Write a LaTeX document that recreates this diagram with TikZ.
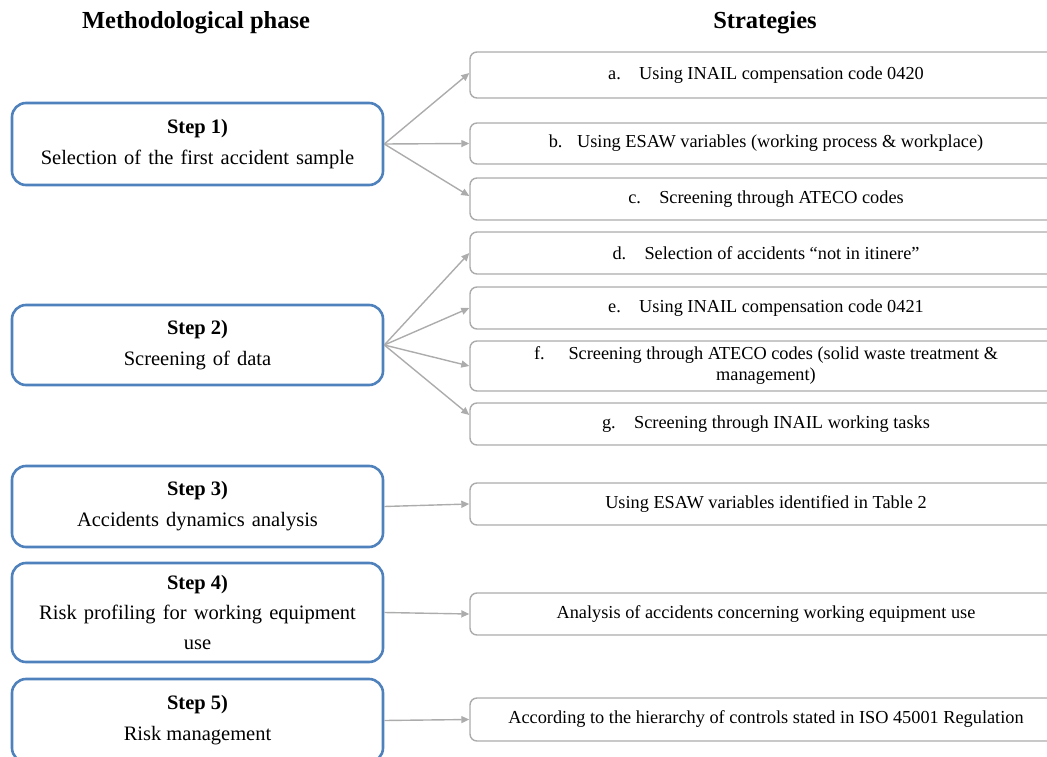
\documentclass[tikz,border=0pt]{standalone}
\usepackage{fontspec}
\setmainfont{Liberation Serif}
\usetikzlibrary{arrows.meta,calc}
\definecolor{stepblue}{RGB}{79,129,189}
\definecolor{lightline}{RGB}{172,172,172}
\newcommand\wsp{\hspace{2pt} }
\begin{document}
\begin{tikzpicture}[x=1pt,y=-1pt,
  stepbox/.style={draw=stepblue,line width=2.6pt,rounded corners=14pt,fill=white,
    minimum width=371pt,inner sep=0pt,align=center,font=\fontsize{20.5}{31}\selectfont},
  stratbox/.style={draw=lightline,line width=1.4pt,rounded corners=7pt,fill=white,
    minimum width=592pt,inner sep=0pt,align=center,font=\fontsize{18.3}{24}\selectfont},
  header/.style={font=\fontsize{24.5}{26}\selectfont\bfseries},
  conn/.style={draw=lightline,line width=1.4pt,-{Triangle[length=8pt,width=7pt]}}
]
\useasboundingbox (0,0) rectangle (1047,757);
\clip (0,0) rectangle (1047,757);
\node[header] (h1) at (196,23) {Methodological phase};
\node[header] (h2) at (765,23) {Strategies};

\node[stepbox,minimum height=82pt] (s1) at (197.5,144) {\textbf{Step 1)}\\Selection\wsp of\wsp the\wsp first\wsp accident\wsp sample};
\node[stepbox,minimum height=80pt] (s2) at (197.5,345) {\textbf{Step 2)}\\Screening\wsp of\wsp data};
\node[stepbox,minimum height=81pt] (s3) at (197.5,506.5) {\textbf{Step 3)}\\Accidents\wsp dynamics\wsp analysis};
\node[stepbox,minimum height=99pt,font=\fontsize{20.5}{30}\selectfont] (s4) at (197.5,612.5) {\textbf{Step 4)}\\Risk\wsp profiling\wsp for\wsp working\wsp equipment\\use};
\node[stepbox,minimum height=83pt] (s5) at (197.5,720.5) {\textbf{Step 5)}\\Risk management};

\node[stratbox,minimum height=46pt] (a) at (766,75) {a.\hspace{1em}Using INAIL compensation code 0420};
\node[stratbox,minimum height=41pt] (b) at (766,143.5) {b.\hspace{0.8em}Using ESAW variables (working process \& workplace)};
\node[stratbox,minimum height=42pt] (c) at (766,199) {c.\hspace{1em}Screening through ATECO codes};
\node[stratbox,minimum height=42pt] (d) at (766,253) {d.\hspace{1em}Selection of accidents “not in itinere”};
\node[stratbox,minimum height=42pt] (e) at (766,308) {e.\hspace{1em}Using INAIL compensation code 0421};
\node[stratbox,minimum height=50pt,font=\fontsize{18.3}{21}\selectfont] (f) at (766,366) {f.\hspace{1.3em}Screening through ATECO codes (solid waste treatment \&\\management)};
\node[stratbox,minimum height=42pt] (g) at (766,424) {g.\hspace{1em}Screening through INAIL working tasks};
\node[stratbox,minimum height=42pt] (r3) at (766,504) {Using ESAW variables identified in Table 2};
\node[stratbox,minimum height=42pt] (r4) at (766,614) {Analysis of accidents concerning working equipment use};
\node[stratbox,minimum height=43pt] (r5) at (766,719.5) {According to the hierarchy of controls stated in ISO 45001 Regulation};

\draw[conn] (s1.east) -- ([yshift=2pt]a.west);
\draw[conn] (s1.east) -- (b.west);
\draw[conn] (s1.east) -- ([yshift=3pt]c.west);
\draw[conn] (s2.east) -- (d.west);
\draw[conn] (s2.east) -- (e.west);
\draw[conn] (s2.east) -- (f.west);
\draw[conn] (s2.east) -- ([yshift=9pt]g.west);
\draw[conn] (s3.east) -- (r3.west);
\draw[conn] (s4.east) -- (r4.west);
\draw[conn] (s5.east) -- (r5.west);
\end{tikzpicture}
\end{document}
